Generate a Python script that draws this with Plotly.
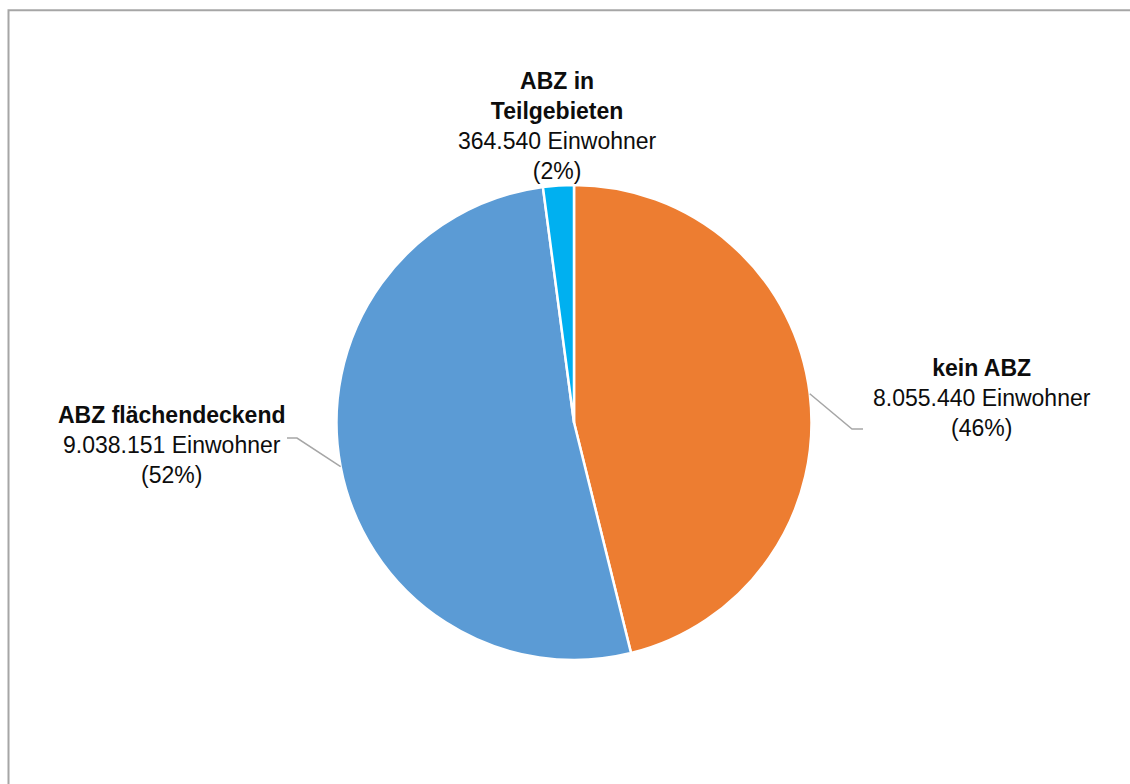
import math
import plotly.graph_objects as go

# Population by ABZ coverage (clockwise from 12 o'clock)
categories = ["kein ABZ", "ABZ flächendeckend", "ABZ in Teilgebieten"]
label_lines = [["kein ABZ"], ["ABZ flächendeckend"], ["ABZ in", "Teilgebieten"]]
einwohner = [8055440, 9038151, 364540]
colors = ["#ED7D31", "#5B9BD5", "#00B0F0"]

W, H = 1130, 784
CX, CY, R = 574.0, 422.5, 237.5  # pie centre and radius in pixels


def px(x):
    return x / W


def py(y):
    return 1 - y / H


def fmt_de(n):
    return f"{n:,}".replace(",", ".")


total = sum(einwohner)
shares = [v / total for v in einwohner]

fig = go.Figure(
    go.Pie(
        labels=categories,
        values=einwohner,
        sort=False,
        direction="clockwise",
        rotation=0,
        marker=dict(colors=colors, line=dict(color="white", width=2.5)),
        textinfo="none",
        hoverinfo="label+value+percent",
        showlegend=False,
        domain=dict(x=[px(CX - R), px(CX + R)], y=[py(CY + R), py(CY - R)]),
    )
)

# label block centres (pixels) and leader line layout
label_pos = [(982, 398), (172, 445), (557, 126)]
elbows = [((852, 429), (863, 429)), ((297, 438), (287, 438)), None]

annotations = []
shapes = []
cum = 0.0
for i, name in enumerate(categories):
    pct = round(shares[i] * 100)
    head = "<br>".join(f"<b>{t}</b>" for t in label_lines[i])
    text = f"{head}<br>{fmt_de(einwohner[i])} Einwohner<br>({pct}%)"
    lx, ly = label_pos[i]
    annotations.append(
        dict(
            x=px(lx), y=py(ly), xref="paper", yref="paper",
            text=text, showarrow=False, align="center",
            xanchor="center", yanchor="middle",
            font=dict(family="Liberation Sans, Arial, sans-serif", size=23, color="#0D0D0D"),
        )
    )
    mid = (cum + shares[i] / 2) * 2 * math.pi
    cum += shares[i]
    if elbows[i] is not None:
        sx = CX + R * math.sin(mid)
        sy = CY - R * math.cos(mid)
        (ex, ey), (tx, ty) = elbows[i]
        path = f"M {px(sx)} {py(sy)} L {px(ex)} {py(ey)} L {px(tx)} {py(ty)}"
        shapes.append(
            dict(type="path", path=path, xref="paper", yref="paper",
                 line=dict(color="#A6A6A6", width=1.5))
        )

# chart area frame (right and bottom edges lie beyond the page)
shapes.append(
    dict(type="rect", xref="paper", yref="paper",
         x0=px(8.5), y0=-0.1, x1=1.1, y1=py(10.3),
         line=dict(color="#A6A6A6", width=2))
)

fig.update_layout(
    width=W, height=H,
    margin=dict(l=0, r=0, t=0, b=0),
    paper_bgcolor="white",
    plot_bgcolor="white",
    annotations=annotations,
    shapes=shapes,
)

fig.write_html("out.html")
